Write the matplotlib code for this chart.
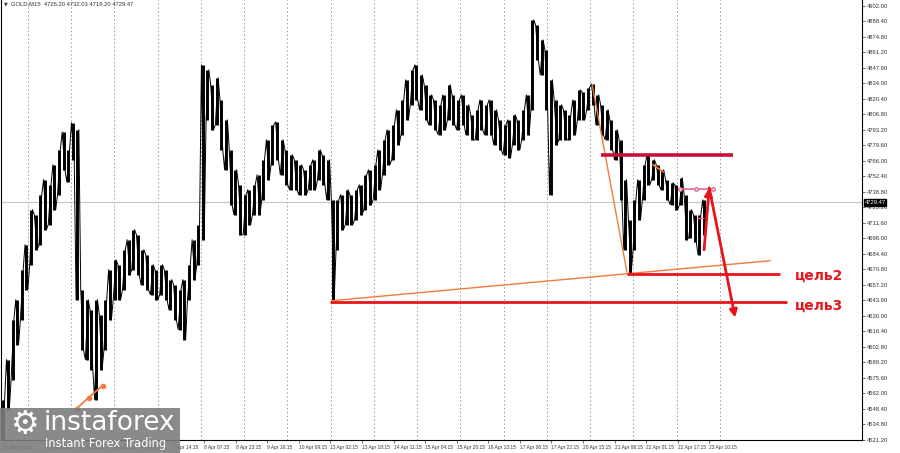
import matplotlib

matplotlib.use("Agg")

import matplotlib.pyplot as plt
import numpy as np

# GOLD M15, one entry per block of 10 bars (high / low of the block)
slot_hi = [
    4556.6, 4591.7, 4626.7, 4644.2, 4670.5, 4692.4, 4723.1, 4718.7, 4736.2, 4749.4,
    4745.0, 4762.5, 4775.6, 4791.4, 4775.6, 4799.3, 4793.2, 4653.0, 4644.2, 4635.5,
    4644.2, 4631.1, 4644.2, 4670.5, 4679.3, 4674.9, 4688.0, 4696.8, 4705.6, 4701.2,
    4688.0, 4683.6, 4674.9, 4670.5, 4674.9, 4670.5, 4661.8, 4657.4, 4653.0, 4661.8,
    4674.9, 4696.8, 4709.9, 4850.1, 4845.7, 4832.6, 4838.7, 4819.4, 4801.9, 4775.6,
    4758.1, 4745.0, 4736.2, 4740.6, 4745.0, 4753.7, 4766.9, 4784.4, 4797.5, 4800.1,
    4784.4, 4775.6, 4771.3, 4766.9, 4762.5, 4758.1, 4762.5, 4766.9, 4775.6, 4771.3,
    4766.9, 4731.8, 4731.8, 4736.2, 4740.6, 4736.2, 4740.6, 4745.0, 4753.7, 4758.1,
    4762.5, 4775.6, 4784.4, 4793.2, 4797.5, 4810.7, 4819.4, 4837.0, 4845.7, 4850.1,
    4841.3, 4832.6, 4823.8, 4819.4, 4815.1, 4823.8, 4832.6, 4823.8, 4819.4, 4823.8,
    4815.1, 4806.3, 4810.7, 4819.4, 4815.1, 4819.4, 4810.7, 4801.9, 4797.5, 4801.9,
    4806.3, 4801.9, 4810.7, 4823.8, 4889.5, 4885.1, 4872.0, 4863.2, 4837.0, 4819.4,
    4815.1, 4810.7, 4806.3, 4819.4, 4828.2, 4826.4, 4829.9, 4833.5, 4823.8, 4815.1,
    4810.7, 4801.9, 4793.2, 4784.4, 4749.4, 4714.3, 4731.8, 4749.4, 4762.5, 4771.3,
    4766.9, 4762.5, 4758.1, 4749.4, 4746.7, 4745.0, 4751.1, 4736.2, 4723.1, 4718.7,
    4718.7, 4731.8,
]
slot_lo = [
    4521.6, 4547.9, 4574.2, 4604.8, 4626.7, 4653.0, 4674.9, 4688.0, 4692.4, 4705.6,
    4709.9, 4723.1, 4736.2, 4758.1, 4747.6, 4766.9, 4644.2, 4600.4, 4591.7, 4582.9,
    4556.6, 4582.9, 4600.4, 4626.7, 4644.2, 4644.2, 4653.0, 4666.1, 4670.5, 4666.1,
    4657.4, 4653.0, 4648.6, 4644.2, 4648.6, 4644.2, 4635.5, 4626.7, 4618.0, 4609.2,
    4644.2, 4661.8, 4674.9, 4696.8, 4801.9, 4793.2, 4797.5, 4775.6, 4758.1, 4727.5,
    4718.7, 4701.2, 4701.2, 4709.9, 4718.7, 4718.7, 4731.8, 4749.4, 4762.5, 4766.9,
    4753.7, 4745.0, 4740.6, 4740.6, 4736.2, 4736.2, 4740.6, 4740.6, 4749.4, 4745.0,
    4731.8, 4644.2, 4688.0, 4705.6, 4709.9, 4709.9, 4714.3, 4718.7, 4723.1, 4727.5,
    4731.8, 4740.6, 4753.7, 4762.5, 4766.9, 4780.0, 4788.8, 4801.9, 4815.1, 4819.4,
    4810.7, 4801.9, 4797.5, 4793.2, 4788.8, 4793.2, 4801.9, 4797.5, 4793.2, 4797.5,
    4788.8, 4784.4, 4784.4, 4793.2, 4788.8, 4788.8, 4780.0, 4775.6, 4771.3, 4768.6,
    4780.0, 4775.6, 4784.4, 4788.8, 4810.7, 4854.5, 4841.3, 4810.7, 4736.2, 4780.0,
    4784.4, 4784.4, 4784.4, 4788.8, 4801.9, 4801.9, 4810.7, 4815.1, 4797.5, 4788.8,
    4784.4, 4775.6, 4766.9, 4731.8, 4688.0, 4667.9, 4688.0, 4714.3, 4731.8, 4745.0,
    4749.4, 4745.0, 4740.6, 4731.8, 4727.5, 4723.1, 4727.5, 4696.8, 4698.5, 4695.0,
    4683.6, 4701.2,
]
BARS_PER_SLOT = 10

date_labels = [
    "31 Mar 2026", "1 Apr 05:15", "1 Apr 22:15", "2 Apr 15:15", "6 Apr 21:15",
    "7 Apr 14:15", "8 Apr 07:15", "8 Apr 23:15", "9 Apr 16:15", "10 Apr 09:15",
    "13 Apr 02:15", "13 Apr 18:15", "14 Apr 11:15", "15 Apr 04:15", "15 Apr 20:15",
    "16 Apr 13:15", "17 Apr 06:15", "17 Apr 22:15", "20 Apr 15:15", "21 Apr 08:15",
    "22 Apr 01:15", "22 Apr 17:15", "23 Apr 10:15",
]
date_bars = [4] + [370 + 68 * k for k in range(-4, 18)]

price_ticks = [4521.20 + 13.6 * k for k in range(29)]
last_price = 4729.47
header = "GOLD,M15  4726.20 4732.03 4719.20 4729.47"

# drawn objects (bar index, price)
support_line = [(714, 4643.4), (1657, 4678.4)]
drop_line = [(1274, 4832.6), (1349, 4667.9)]
resist_level = (1293, 1577, 4771.3)
target2 = (1349, 1678, 4667.0)
target3 = (710, 1694, 4642.5)
arrow_up = [(1515, 4688.0), (1526, 4742.3)]
arrow_down = [(1526, 4742.3), (1582, 4628.5)]
pink_level = (1463, 1534, 4741.5)
pink_short = (1500, 1515, 4716.1)
orange_tick = [(1405, 4762.5), (1427, 4756.4)]
old_ray = [(163, 4548.7), (189, 4558.4), (219, 4568.9)]

RED = "#e8141c"
ORANGE = "#f47a3a"
XFONT = dict(family="Liberation Sans", size=3.5)
YFONT = dict(family="Liberation Sans", size=4.2)

fig = plt.figure(figsize=(9.0, 4.53), dpi=100)
ax = fig.add_axes([0.001, 13 / 453, 861 / 900, 440 / 453])
ax.set_xlim(0, 1855)
ax.set_ylim(4521.4, 4907.0)

# vertical dotted grid
for gx in 58 + 93.2 * np.arange(17):
    ax.axvline(gx, color="#9a9a9a", lw=0.7, ls=(0, (1.5, 2.5)), zorder=0)

ax.axhline(last_price, color="#c8c8c8", lw=0.9, zorder=1)

# price band
hi = np.array(slot_hi)
lo = np.array(slot_lo)
xc = np.arange(len(hi)) * BARS_PER_SLOT + BARS_PER_SLOT / 2
ax.vlines(xc, lo, hi, color="black", lw=2.1, zorder=3)
zx, zy = [], []
for i in range(len(hi)):
    first, second = (lo[i], hi[i]) if i % 2 == 0 else (hi[i], lo[i])
    zx += [xc[i] - 3, xc[i] + 3]
    zy += [first, second]
ax.plot(zx, zy, color="black", lw=0.7, zorder=3)

# analysis drawings
ax.plot(*zip(*support_line), color=ORANGE, lw=1.0, zorder=4)
ax.plot(*zip(*drop_line), color=ORANGE, lw=1.0, zorder=4)
ax.plot(*zip(*orange_tick), color=ORANGE, lw=1.2, zorder=4)
ax.plot(*zip(*old_ray), color=ORANGE, lw=1.3, marker="o", ms=3, zorder=4)
ax.hlines(resist_level[2], resist_level[0], resist_level[1], color="#c8103a", lw=2.6, zorder=5)
ax.hlines(target2[2], target2[0], target2[1], color=RED, lw=2.0, zorder=5)
ax.hlines(target3[2], target3[0], target3[1], color=RED, lw=2.0, zorder=5)
ax.plot([pink_level[0], (pink_level[0] + pink_level[1]) / 2, pink_level[1]],
        [pink_level[2]] * 3, color="#e06a8a", lw=1.2, marker="o", ms=2.5,
        mfc="white", zorder=5)
ax.hlines(pink_short[2], pink_short[0], pink_short[1], color="#e06a8a", lw=1.0, zorder=5)
for seg in (arrow_up, arrow_down):
    ax.annotate("", xy=seg[1], xytext=seg[0],
                arrowprops=dict(arrowstyle="-|>", color=RED, lw=2.0,
                                mutation_scale=11, shrinkA=0, shrinkB=0),
                zorder=6)
ax.text(1711, target2[2] - 1.5, "цель2", color=RED, fontsize=10,
        fontweight="bold", va="center", ha="left")
ax.text(1711, target3[2] - 3.5, "цель3", color=RED, fontsize=10,
        fontweight="bold", va="center", ha="left")

# axes styling
ax.spines["top"].set_visible(False)
for side in ("left", "right", "bottom"):
    ax.spines[side].set_color("black")
    ax.spines[side].set_linewidth(0.8)
ax.yaxis.tick_right()
ax.set_yticks(price_ticks)
ax.set_yticklabels([f"{p:.2f}" for p in price_ticks], **YFONT)
ax.set_xticks(date_bars)
ax.set_xticklabels(date_labels, ha="left", **XFONT)
ax.tick_params(axis="both", colors="#333333", length=2, width=0.5, pad=1.5)
ax.text(1.003, last_price, f"{last_price:.2f}", transform=ax.get_yaxis_transform(),
        color="white", va="center", ha="left", zorder=10, clip_on=False,
        bbox=dict(boxstyle="square,pad=0.15", fc="black", ec="black"), **YFONT)

ax.text(6, 4903.5, "▼", fontsize=3.5, color="#333333", va="center")
ax.text(22, 4903.5, header, color="#333333", va="center", **YFONT)

# watermark
fig.patches.append(plt.Rectangle((0, 0), 180 / 900, 45 / 453, transform=fig.transFigure,
                                 facecolor="#7d7d7d", alpha=0.9, zorder=20))
fig.text(25 / 900, 28 / 453, "⚙", fontsize=23, color="white", ha="center", va="center",
         zorder=21)
fig.text(44 / 900, 30 / 453, "instaforex", fontsize=19, color="white", ha="left",
         va="center", zorder=21)
fig.text(45 / 900, 9 / 453, "Instant Forex Trading", fontsize=8.3, color="white",
         ha="left", va="center", zorder=21)

fig.savefig("out.png", dpi=100)
